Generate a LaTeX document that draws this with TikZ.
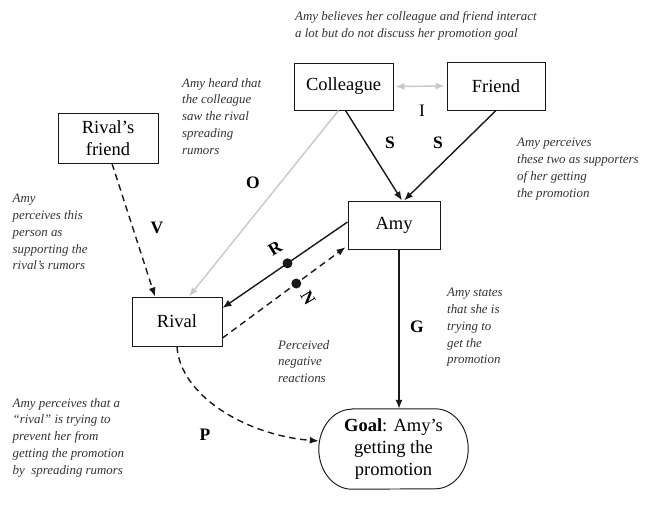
\documentclass[tikz,border=0pt]{standalone}
\usepackage{fontspec}
\setmainfont{Liberation Serif}
\usetikzlibrary{arrows.meta,calc}
\definecolor{lgrey}{RGB}{200,200,200}
\definecolor{ink}{RGB}{25,25,25}
\definecolor{notegrey}{RGB}{50,50,50}
\begin{document}
\begin{tikzpicture}[x=1pt,y=-1pt,
  box/.style={draw=ink,line width=0.95pt,inner sep=0pt,align=center,
    font=\fontsize{18.5}{22}\selectfont},
  note/.style={anchor=north west,inner sep=0pt,align=left,text=notegrey,
    font=\fontsize{12.9}{16.8}\selectfont\itshape},
  lab/.style={font=\fontsize{17.5}{17.5}\selectfont\bfseries},
  arr/.style={-{Latex[length=9pt,width=7pt]},line width=1.4pt,draw=ink},
  garr/.style={-{Latex[length=9pt,width=7pt]},line width=1.4pt,draw=lgrey},
  dashd/.style={dash pattern=on 6.5pt off 4.5pt},
  dot/.style={circle,fill=ink,inner sep=0pt,minimum size=10pt}]
\useasboundingbox (0,0) rectangle (655,519);

% boxes
\node[box,minimum width=99pt,minimum height=47pt] (col) at (343.5,86.5) {Colleague};
\node[box,minimum width=98pt,minimum height=48pt] (fri) at (496,86) {Friend};
\node[box,minimum width=100pt,minimum height=50pt] (rf) at (108,138) {Rival’s\\friend};
\node[box,minimum width=92pt,minimum height=48pt] (amy) at (394,225) {Amy};
\node[box,minimum width=90pt,minimum height=49pt] (riv) at (177,321.5) {Rival};
\node[inner sep=0pt,minimum width=149pt,minimum height=80pt,align=center,
  font=\fontsize{18.5}{22}\selectfont] (goal) at (393.5,449)
  {\textbf{Goal}: Amy’s\\getting the\\promotion};
\draw[ink,line width=0.95pt] ([xshift=33pt]goal.north west) -- ([xshift=-33pt]goal.north east)
  arc[start angle=90,end angle=-90,x radius=33pt,y radius=40pt]
  -- ([xshift=33pt]goal.south west)
  arc[start angle=270,end angle=90,x radius=33pt,y radius=40pt] -- cycle;

% connectors
\draw[garr,{Latex[length=9pt,width=7pt]}-{Latex[length=9pt,width=7pt]},
  shorten <=2pt,shorten >=2pt] (col.east) -- (fri.west);
\draw[arr] ([xshift=2pt]col.south) -- ([xshift=8pt]amy.north);
\draw[arr] (fri.south) -- ([xshift=10pt]amy.north);
\draw[garr] ([xshift=-5pt]col.south) -- ([xshift=12pt]riv.north);
\draw[arr,dashd] ([xshift=4pt]rf.south) -- ([xshift=-22pt]riv.north);
\draw[arr] ([yshift=3pt]amy.west) -- node[pos=0.48,dot]{} ([yshift=13.5pt]riv.east);
\draw[arr,dashd] ([yshift=-16.5pt]riv.east) -- node[pos=0.6,dot]{} ([xshift=-2pt,yshift=2.3pt]amy.south west);
\draw[arr] ([xshift=5pt]amy.south) -- ([xshift=5pt]amy.south |- goal.north);
\draw[arr,dashd] (riv.south) .. controls (180,395) and (245,435) .. ([yshift=8pt]goal.west);

% connector labels
\node[font=\fontsize{17.5}{17.5}\selectfont] (lI) at (422,111) {I};
\node[lab] (lS1) at (390,143) {S};
\node[lab] (lS2) at (438,143) {S};
\node[lab] (lO) at (253,183) {O};
\node[lab] (lV) at (157,228) {V};
\node[lab,rotate=31] (lR) at (275,248) {R};
\node[lab,rotate=-59] (lN) at (308,298) {N};
\node[lab] (lG) at (417,327) {G};
\node[lab] (lP) at (205,435) {P};

% annotations
\node[note] (n1) at (295,11) {Amy believes her colleague and friend interact\\a lot but do not discuss her promotion goal};
\node[note] (n2) at (182,78) {Amy heard that\\the colleague\\saw the rival\\spreading\\rumors};
\node[note] (n3) at (12.5,194) {Amy\\perceives this\\person as\\supporting the\\rival’s rumors};
\node[note] (n4) at (517,138) {Amy perceives\\these two as supporters\\of her getting\\the promotion};
\node[note] (n5) at (447,288) {Amy states\\that she is\\trying to\\get the\\promotion};
\node[note] (n6) at (278,340) {Perceived\\negative\\reactions};
\node[note] (n7) at (12.5,398) {Amy perceives that a\\“rival” is trying to\\prevent her from\\getting the promotion\\by~ spreading rumors};
\end{tikzpicture}
\end{document}
